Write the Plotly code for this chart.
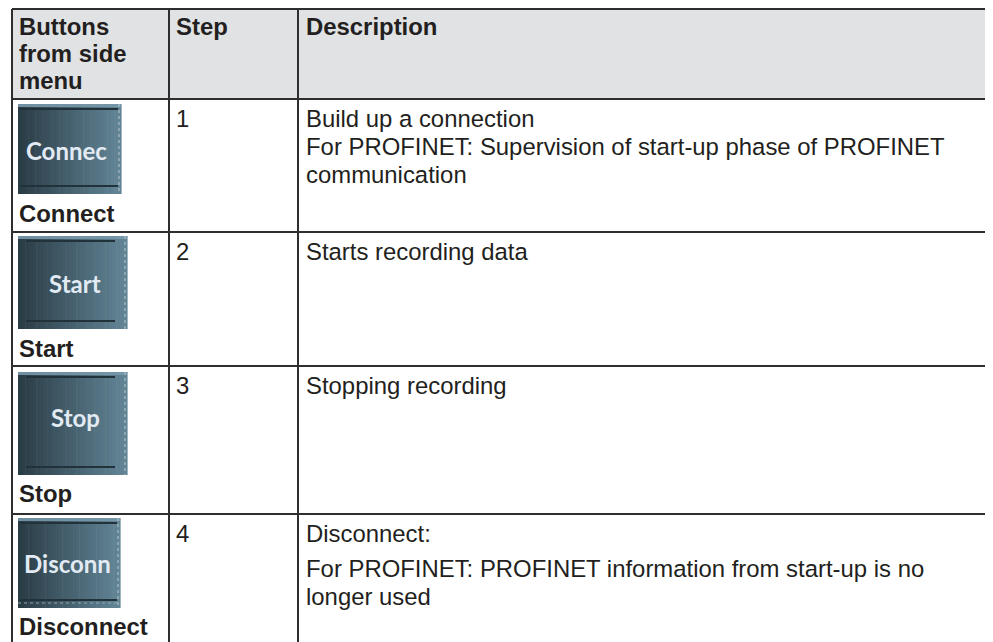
import plotly.graph_objects as go

# ---------------- data ----------------
header_buttons = ["Buttons", "from side", "menu"]
header_step = "Step"
header_desc = "Description"

steps = ["1", "2", "3", "4"]
button_names = ["Connect", "Start", "Stop", "Disconnect"]
button_captions = ["Connec", "Start", "Stop", "Disconn"]
descriptions = [
    [["Build up a connection",
      "For PROFINET: Supervision of start-up phase of PROFINET",
      "communication"]],
    [["Starts recording data"]],
    [["Stopping recording"]],
    [["Disconnect:"],
     ["For PROFINET: PROFINET information from start-up is no",
      "longer used"]],
]

# ---------------- layout values ----------------
PAGE_W, PAGE_H = 993, 642
OFF = 8  # page body margin offset
W, H = PAGE_W - OFF, PAGE_H - OFF
x_left, x_col2, x_col3, x_right = 12, 169, 298, 1010
y_top, y_head = 9, 99
row_tops = [99, 232, 366, 514]
btn_box = [  # x0, y0, x1, y1
    (18, 104, 121, 194),
    (18, 236, 127, 329),
    (18, 372, 127, 475),
    (18, 518, 120, 608),
]
btn_caption_xy = [(66, 150), (75, 283), (75, 417), (67, 563)]
label_baselines = [222, 357, 502, 635]

FS = 23.9
BODY = "Liberation Sans, Arial, sans-serif"
LINE = "#2e2e2e"
HEAD_FILL = "#e1e2e4"

fig = go.Figure()
fig.add_trace(go.Scatter(x=[OFF, PAGE_W], y=[OFF, PAGE_H], mode="markers",
                         marker=dict(opacity=0), hoverinfo="skip", showlegend=False))

shapes = []
annotations = []


def txt(x, baseline, s, bold=False, size=FS, color="#231f20", family=BODY,
        xanchor="left"):
    annotations.append(dict(
        x=x, y=baseline - 0.35 * size, xref="x", yref="y",
        text=("<b>%s</b>" % s) if bold else s,
        showarrow=False, xanchor=xanchor, yanchor="middle",
        font=dict(family=family, size=size, color=color), borderpad=0))


# header background
shapes.append(dict(type="rect", x0=x_left, x1=x_right, y0=y_top, y1=y_head,
                   fillcolor=HEAD_FILL, line=dict(width=0), layer="below"))


def lerp(c1, c2, t):
    return "rgb(%d,%d,%d)" % tuple(round(a + (b - a) * t) for a, b in zip(c1, c2))


dark = (42, 60, 70)
light = (98, 133, 150)
nstrip = 30
for i, (bx0, by0, bx1, by1) in enumerate(btn_box):
    w = (bx1 - bx0) / nstrip
    for k in range(nstrip):
        shapes.append(dict(type="rect", x0=bx0 + k * w, x1=bx0 + (k + 1) * w + 0.6,
                           y0=by0, y1=by1, fillcolor=lerp(dark, light, k / (nstrip - 1)),
                           line=dict(width=0), layer="below"))
    shapes.append(dict(type="rect", x0=bx0, x1=bx1, y0=by0, y1=by0 + 3,
                       fillcolor="rgba(120,152,170,0.9)", line=dict(width=0)))
    if i in (1, 2):
        ix0, ix1 = bx0 + 8, bx1 - 12
    else:
        ix0, ix1 = bx0 + 2, bx1 - 3
    shapes.append(dict(type="line", x0=ix0, x1=ix1, y0=by0 + 5, y1=by0 + 5,
                       line=dict(color="#22323b", width=2)))
    shapes.append(dict(type="line", x0=ix0, x1=ix1, y0=by1 - 8, y1=by1 - 8,
                       line=dict(color="#22323b", width=2)))
    shapes.append(dict(type="line", x0=bx1 - 2, x1=bx1 - 2, y0=by0, y1=by1,
                       line=dict(color="#b9c4ca", width=1, dash="dot")))
    if i == 3:
        shapes.append(dict(type="line", x0=bx0, x1=bx1, y0=by1 - 5, y1=by1 - 5,
                           line=dict(color="#8fa6b3", width=1, dash="dot")))
    cx, cy = btn_caption_xy[i]
    annotations.append(dict(x=cx, y=cy, xref="x", yref="y",
                            text="<b>%s</b>" % button_captions[i], showarrow=False,
                            xanchor="center", yanchor="middle",
                            font=dict(family="Lato, Open Sans, sans-serif", size=24,
                                      color="#e2ebf3")))

# grid lines
for y in [y_top, y_head] + row_tops[1:]:
    shapes.append(dict(type="line", x0=x_left, x1=x_right, y0=y, y1=y,
                       line=dict(color=LINE, width=2)))
for x in (x_left, x_col2, x_col3):
    shapes.append(dict(type="line", x0=x, x1=x, y0=y_top, y1=PAGE_H + 20,
                       line=dict(color=LINE, width=2)))

# header text
for j, s in enumerate(header_buttons):
    txt(18, 35 + 27 * j, s, bold=True)
txt(175, 35, header_step, bold=True)
txt(305, 35, header_desc, bold=True)

# rows
for i in range(4):
    top = row_tops[i]
    base = top + 28
    txt(175, base, steps[i])
    b = base
    for p, para in enumerate(descriptions[i]):
        if p > 0:
            b += 7
        for line in para:
            txt(305, b, line)
            b += 28
    txt(18, label_baselines[i], button_names[i], bold=True)

fig.update_layout(
    width=W, height=H, margin=dict(l=0, r=0, t=0, b=0),
    paper_bgcolor="white", plot_bgcolor="white",
    xaxis=dict(range=[OFF, PAGE_W], visible=False, fixedrange=True),
    yaxis=dict(range=[PAGE_H, OFF], visible=False, fixedrange=True),
    shapes=shapes, annotations=annotations, showlegend=False,
)
fig.write_html("out.html")
